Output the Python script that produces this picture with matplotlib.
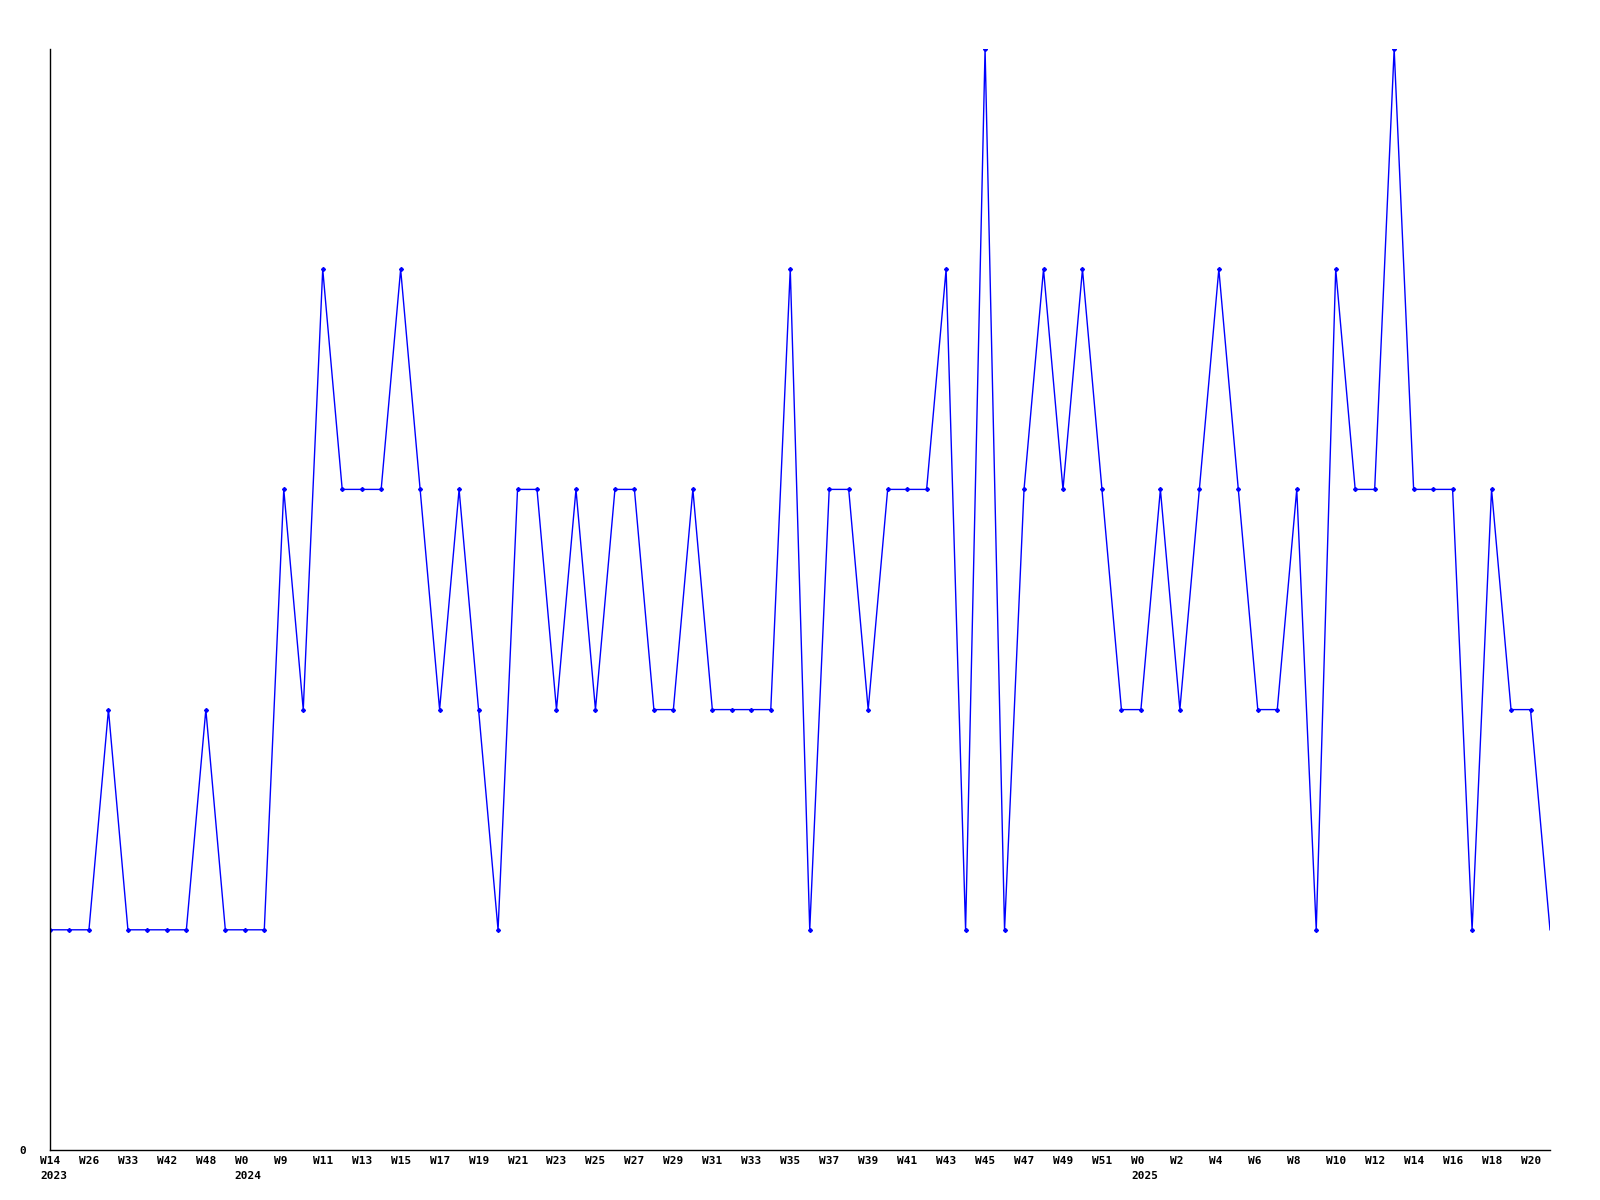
import matplotlib
matplotlib.use("Agg")
import matplotlib.pyplot as plt

# weekly values, one per point
values = [1, 1, 1, 2, 1, 1, 1, 1, 2, 1,
          1, 1, 3, 2, 4, 3, 3, 3, 4, 3,
          2, 3, 2, 1, 3, 3, 2, 3, 2, 3,
          3, 2, 2, 3, 2, 2, 2, 2, 4, 1,
          3, 3, 2, 3, 3, 3, 4, 1, 5, 1,
          3, 4, 3, 4, 3, 2, 2, 3, 2, 3,
          4, 3, 2, 2, 3, 1, 4, 3, 3, 5,
          3, 3, 3, 1, 3, 2, 2, 1]

# labels shown on every second point
week_labels = ["W14", "W26", "W33", "W42", "W48", "W0", "W9", "W11", "W13", "W15",
               "W17", "W19", "W21", "W23", "W25", "W27", "W29", "W31", "W33", "W35",
               "W37", "W39", "W41", "W43", "W45", "W47", "W49", "W51", "W0", "W2",
               "W4", "W6", "W8", "W10", "W12", "W14", "W16", "W18", "W20"]
year_labels = {0: "2023", 5: "2024", 28: "2025"}

FONT = dict(family="DejaVu Sans Mono", weight="bold", size=8)

fig = plt.figure(figsize=(16, 12), dpi=100)
ax = fig.add_axes([50 / 1600, 50 / 1200, 1500 / 1600, 1101 / 1200])

x = list(range(len(values)))
ax.plot(x, values, color="#0000ff", lw=1, marker="D", ms=2,
        mec="#0000ff", mfc="#0000ff", markevery=slice(0, len(values) - 1))

ax.set_xlim(0, len(values) - 1)
ax.set_ylim(0, 5)

for s in ["top", "right"]:
    ax.spines[s].set_visible(False)
for s in ["left", "bottom"]:
    ax.spines[s].set_color("black")
    ax.spines[s].set_linewidth(1)

ax.set_yticks([0])
ax.set_yticklabels(["0"], fontdict=FONT)
ax.tick_params(axis="y", length=0, pad=17)

tick_pos = x[::2][:len(week_labels)]
ax.set_xticks([])
for i, (p, w) in enumerate(zip(tick_pos, week_labels)):
    ax.annotate(w, (p, 0), xycoords=("data", "axes fraction"),
                xytext=(-10, -11), textcoords="offset pixels",
                ha="left", va="center", **FONT)
    if i in year_labels:
        ax.annotate(year_labels[i], (p, 0), xycoords=("data", "axes fraction"),
                    xytext=(-10, -26), textcoords="offset pixels",
                    ha="left", va="center", **FONT)

fig.savefig("out.png", dpi=100)
